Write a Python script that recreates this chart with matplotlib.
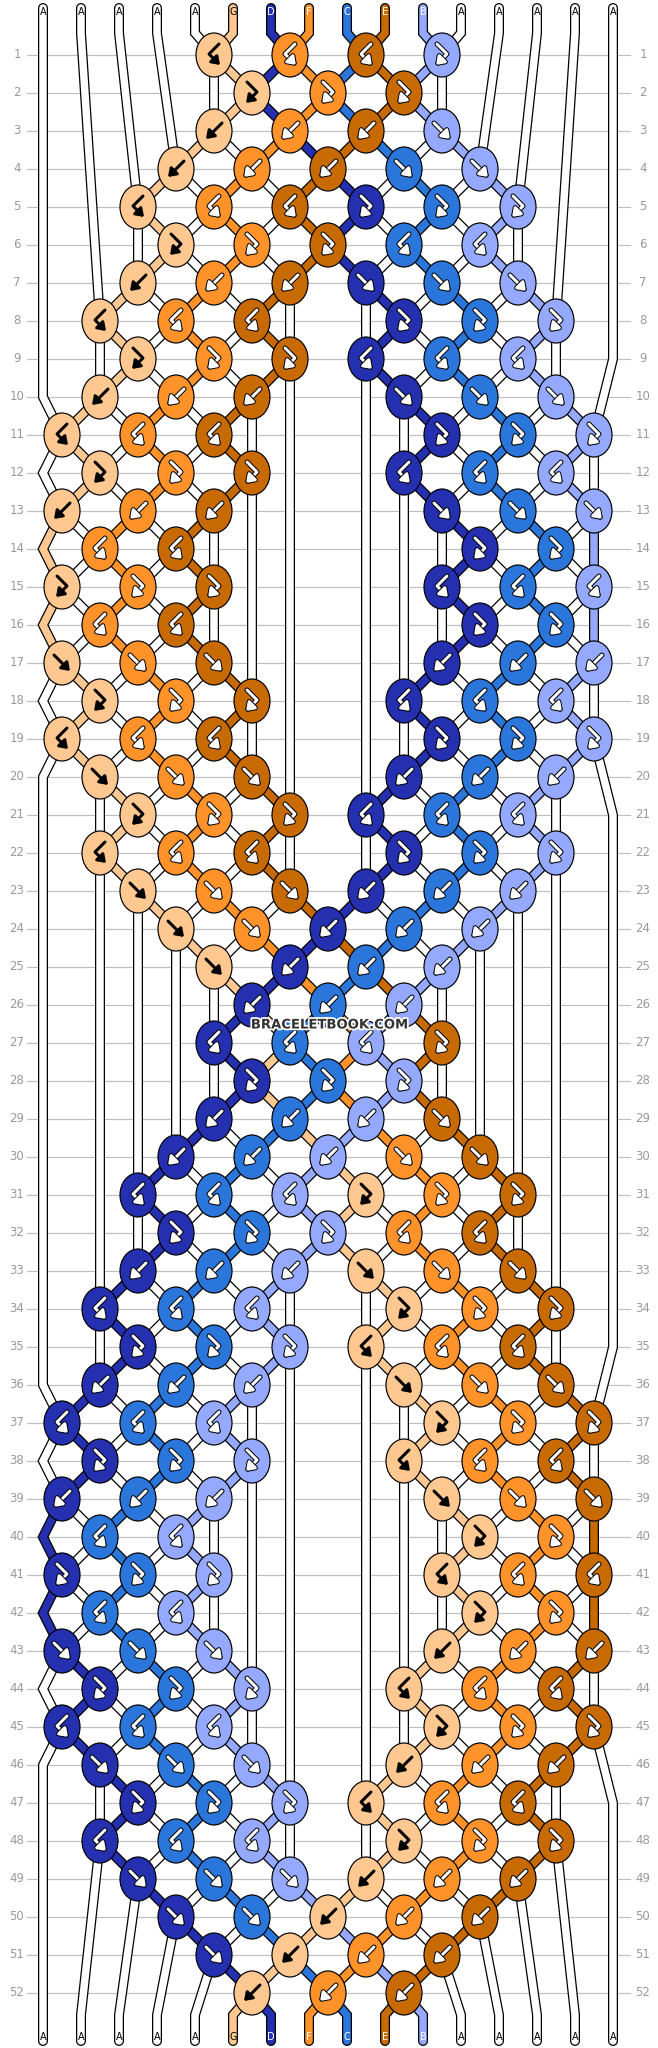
import matplotlib
matplotlib.use('Agg')
import matplotlib.pyplot as plt
from matplotlib.patches import Ellipse, FancyArrowPatch
from matplotlib.path import Path
import matplotlib.patheffects as pe

# --- pattern data ---
start_strings = ['A', 'A', 'A', 'A', 'A', 'G', 'D', 'F', 'C', 'E', 'B', 'A', 'A', 'A', 'A', 'A']

# knot colours per row ('.' = no knot); odd rows 8 knots, even rows 7
knot_rows = [
    "..GFEB..", "..GFE..", "..GFEB..", ".GFECB.", ".GFEDCB.", ".GFECB.",
    ".GFEDCB.", "GFE.DCB", ".GFEDCB.", "GFE.DCB", "GFE..DCB", "GFE.DCB",
    "GFE..DCB", "FE...DC", "GFE..DCB", "FE...DC", "GFE..DCB", "GFE.DCB",
    "GFE..DCB", "GFE.DCB", ".GFEDCB.", "GFE.DCB", ".GFEDCB.", ".GFDCB.",
    "..GDCB..", "..DCB..",
    "..DCBE..", "..DCB..", "..DCBE..", ".DCBFE.", ".DCBGFE.", ".DCBFE.",
    ".DCBGFE.", "DCB.GFE", ".DCBGFE.", "DCB.GFE", "DCB..GFE", "DCB.GFE",
    "DCB..GFE", "CB...GF", "DCB..GFE", "CB...GF", "DCB..GFE", "DCB.GFE",
    "DCB..GFE", "DCB.GFE", ".DCBGFE.", "DCB.GFE", ".DCBGFE.", ".DCGFE.",
    "..DGFE..", "..GFE..",
]
# S = straight knots (f / b), B = bent knots (fb / bf)
row_types = "BBSSBBSBBSBBSBBBSBBSBBSSSS" * 2

colors = {
    'A': '#ffffff', 'G': '#ffc891', 'D': '#2430b0', 'F': '#ff9229',
    'C': '#2b76db', 'E': '#c86a02', 'B': '#94a9ff',
}
dark_arrow = {'A', 'G'}

W, H = 658, 2048
n = len(start_strings)
xs = [43 + 38 * i for i in range(n)]
def row_y(r):
    return 55 + 38 * r

# --- simulate the strings ---
order = list(range(n))  # order[pos] = string id
paths = {s: [(xs[s], 8), (xs[s], 33)] for s in range(n)}
knots = []
bad = []
for r, (row, t) in enumerate(zip(knot_rows, row_types)):
    y = row_y(r)
    off = 0 if r % 2 == 0 else 1
    knotted = set()
    for k, ch in enumerate(row):
        if ch == '.':
            continue
        p = off + 2 * k
        x = (xs[p] + xs[p + 1]) / 2
        ls, rs = order[p], order[p + 1]
        lc, rc = start_strings[ls], start_strings[rs]
        if lc == ch:
            kind = 'f' if t == 'S' else 'fb'
        elif rc == ch:
            kind = 'b' if t == 'S' else 'bf'
        else:
            bad.append((r + 1, k, lc, rc, ch))
            kind = 'f'
        paths[ls].append((x, y))
        paths[rs].append((x, y))
        knotted.update([p, p + 1])
        if kind in ('f', 'b'):
            order[p], order[p + 1] = rs, ls
        knots.append((x, y, ch, kind))
    edge = 0 if off == 1 else n - 1
    if edge not in knotted:
        paths[order[edge]].append((xs[edge], y))
if bad:
    raise RuntimeError(f"colour mismatch: {bad}")

end_strings = []
for p in range(n):
    s = order[p]
    paths[s].append((xs[p], 2015))
    paths[s].append((xs[p], 2041))
    end_strings.append(start_strings[s])

# --- draw ---
fig = plt.figure(figsize=(W / 100, H / 100), dpi=100)
ax = fig.add_axes([0, 0, 1, 1])
ax.set_xlim(0, W)
ax.set_ylim(H, 0)
ax.axis('off')
PX = 0.72

for r in range(len(knot_rows)):
    y = row_y(r)
    ax.plot([27, 630], [y, y], color='#c0c0c0', lw=1.2 * PX, zorder=1)
    ax.text(17, y, str(r + 1), ha='center', va='center', fontsize=8.5, color='#999999')
    ax.text(643, y, str(r + 1), ha='center', va='center', fontsize=8.5, color='#999999')

for s in range(n):
    pts = paths[s]
    px, py = zip(*pts)
    c = colors[start_strings[s]]
    ax.plot(px, py, color='black', lw=10 * PX, solid_capstyle='round',
            solid_joinstyle='miter', zorder=2 + s * 0.01)
    ax.plot(px, py, color=c, lw=7.5 * PX, solid_capstyle='round',
            solid_joinstyle='miter', zorder=2.005 + s * 0.01)

for p in range(n):
    for ch, yy in ((start_strings[p], 12), (end_strings[p], 2037)):
        tc = 'black' if ch in dark_arrow else 'white'
        ax.text(xs[p], yy, ch, ha='center', va='center', fontsize=7,
                color=tc, zorder=3)

arrow_shapes = {
    'f': [(-8, -8), (8, 8)],
    'b': [(8, -8), (-8, 8)],
    'fb': [(-5, -11), (5, -1), (-6, 10)],
    'bf': [(5, -11), (-5, -1), (6, 10)],
}
style = '-|>,head_length=0.5,head_width=0.35'
for x, y, ch, kind in knots:
    ax.add_patch(Ellipse((x, y), 36, 44, facecolor=colors[ch], edgecolor='black',
                         lw=1.2 * PX, zorder=4))
    verts = [(x + dx, y + dy) for dx, dy in arrow_shapes[kind]]
    path = Path(verts, [Path.MOVETO] + [Path.LINETO] * (len(verts) - 1))
    if ch in dark_arrow:
        arr = FancyArrowPatch(path=path, arrowstyle=style, mutation_scale=9,
                              color='black', lw=3 * PX, zorder=5)
    else:
        arr = FancyArrowPatch(path=path, arrowstyle=style, mutation_scale=9,
                              color='white', lw=3 * PX, zorder=5)
        arr.set_path_effects([pe.Stroke(linewidth=5 * PX, foreground='black'), pe.Normal()])
    ax.add_patch(arr)

ax.text(330, 1025, 'BRACELETBOOK.COM', ha='center', va='center', fontsize=9.5,
        fontweight='bold', color='#333333', zorder=6,
        path_effects=[pe.withStroke(linewidth=2.5, foreground='white')])

fig.savefig('out.png', dpi=100)
